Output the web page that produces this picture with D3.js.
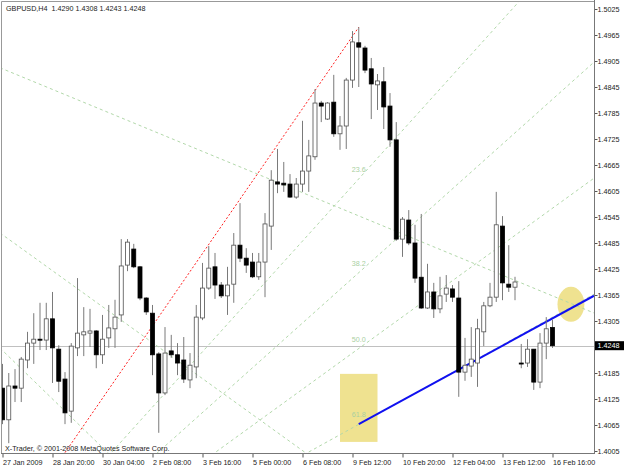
<!DOCTYPE html>
<html>
<head>
<meta charset="utf-8">
<script src="https://cdn.jsdelivr.net/npm/d3@7"></script>
<style>
  body { margin: 0; background: #fff; }
  text { font-family: "Liberation Sans", Arial, sans-serif; font-size: 7.2px; }
</style>
</head>
<body>
<div id="chart"></div>
<script>
'use strict';

// GBPUSD H4, one entry per bar, bar 0 = 27 Jan 2009 12:00
var opens = [1.4150,1.4077,1.4155,1.4150,1.4215,1.4254,1.4263,1.4261,1.4310,1.4240,
    1.4171,1.4097,1.4243,1.4273,1.4277,1.4282,1.4227,1.4266,1.4287,1.4319,
    1.4434,1.4471,1.4430,1.4358,1.4323,1.4229,1.4139,1.4236,1.4227,1.4215,
    1.4169,1.4199,1.4312,1.4381,1.4430,1.4388,1.4363,1.4390,1.4480,1.4450,
    1.4441,1.4407,1.4441,1.4524,1.4626,1.4623,1.4621,1.4591,1.4621,1.4651,
    1.4684,1.4808,1.4771,1.4810,1.4737,1.4755,1.4861,1.4947,1.4935,1.4887,
    1.4850,1.4857,1.4801,1.4723,1.4494,1.4538,1.4485,1.4406,1.4335,1.4372,
    1.4333,1.4367,1.4379,1.4358,1.4187,1.4201,1.4208,1.4280,1.4340,1.4360,
    1.4524,1.4390,1.4383,1.4208,1.4208,1.4240,1.4164,1.4254,1.4290];
var highs = [1.4206,1.4185,1.4194,1.4222,1.4280,1.4323,1.4347,1.4347,1.4372,1.4249,
    1.4187,1.4254,1.4404,1.4337,1.4333,1.4284,1.4319,1.4342,1.4354,1.4494,
    1.4494,1.4483,1.4432,1.4360,1.4342,1.4233,1.4291,1.4273,1.4254,1.4268,
    1.4231,1.4342,1.4439,1.4478,1.4462,1.4395,1.4430,1.4508,1.4577,1.4473,
    1.4462,1.4462,1.4554,1.4653,1.4702,1.4672,1.4644,1.4635,1.4767,1.4723,
    1.4840,1.4813,1.4810,1.4873,1.4778,1.4866,1.4974,1.4983,1.4940,1.4912,
    1.4875,1.4891,1.4831,1.4764,1.4545,1.4561,1.4527,1.4552,1.4437,1.4393,
    1.4407,1.4411,1.4388,1.4397,1.4266,1.4291,1.4310,1.4349,1.4393,1.4603,
    1.4547,1.4480,1.4407,1.4252,1.4263,1.4240,1.4277,1.4314,1.4308];
var lows = [1.4067,1.4023,1.4118,1.4118,1.4196,1.4206,1.4238,1.4238,1.4162,1.4141,
    1.4067,1.4070,1.4224,1.4224,1.4245,1.4196,1.4206,1.4243,1.4243,1.4303,
    1.4420,1.4427,1.4353,1.4319,1.4180,1.4047,1.4134,1.4220,1.4180,1.4162,
    1.4150,1.4173,1.4307,1.4377,1.4356,1.4358,1.4319,1.4347,1.4441,1.4416,
    1.4404,1.4400,1.4360,1.4469,1.4600,1.4603,1.4589,1.4587,1.4603,1.4603,
    1.4677,1.4764,1.4769,1.4730,1.4700,1.4702,1.4843,1.4845,1.4877,1.4771,
    1.4792,1.4748,1.4707,1.4490,1.4453,1.4480,1.4393,1.4333,1.4333,1.4312,
    1.4323,1.4349,1.4349,1.4130,1.4167,1.4176,1.4153,1.4247,1.4337,1.4349,
    1.4353,1.4372,1.4353,1.4196,1.4199,1.4146,1.4150,1.4217,1.4243];
var closes = [1.4077,1.4155,1.4150,1.4217,1.4254,1.4263,1.4261,1.4310,1.4243,1.4166,
    1.4093,1.4247,1.4277,1.4280,1.4282,1.4227,1.4263,1.4289,1.4314,1.4432,
    1.4487,1.4430,1.4358,1.4326,1.4227,1.4139,1.4231,1.4227,1.4208,1.4171,
    1.4203,1.4314,1.4381,1.4427,1.4388,1.4363,1.4388,1.4480,1.4450,1.4434,
    1.4407,1.4441,1.4529,1.4630,1.4621,1.4619,1.4591,1.4621,1.4651,1.4686,
    1.4808,1.4801,1.4808,1.4737,1.4755,1.4861,1.4949,1.4937,1.4884,1.4852,
    1.4859,1.4799,1.4723,1.4494,1.4540,1.4485,1.4404,1.4335,1.4372,1.4333,
    1.4363,1.4381,1.4360,1.4187,1.4203,1.4217,1.4287,1.4340,1.4360,1.4527,
    1.4393,1.4383,1.4395,1.4206,1.4240,1.4164,1.4254,1.4287,1.4248];

// axis labels
var timeLabels = ["27 Jan 2009", "28 Jan 20:00", "30 Jan 04:00", "2 Feb 08:00", "3 Feb 16:00",
    "5 Feb 00:00", "6 Feb 08:00", "9 Feb 12:00", "10 Feb 20:00", "12 Feb 04:00",
    "13 Feb 12:00", "16 Feb 16:00"];
var timeLabelBars = [0, 8, 16, 24, 32, 40, 48, 56, 64, 72, 80, 88];
var priceTicks = [1.5025, 1.4965, 1.4905, 1.4845, 1.4785, 1.4725, 1.4665, 1.4605, 1.4545,
    1.4485, 1.4425, 1.4365, 1.4305, 1.4245, 1.4185, 1.4125, 1.4065, 1.4005];
var lastPrice = 1.4248;

// objects on the chart (bar index, price)
var fiboBars = [-14, 57];
var fiboPrices = [1.3500, 1.4983];
var fiboLevels = [23.6, 38.2, 50.0, 61.8];
var fanLines = [
    [[0, 1.4887], [88, 1.4363]],
    [[0, 1.4504], [40, 1.4089]],
    [[0, 1.4237], [12, 1.4069]]
];
var trendBars = [57, 88];
var trendPrices = [1.4067, 1.4311];
var boxBars = [54, 60], boxPrices = [1.4183, 1.4026];
var ovalBars = [88.8, 93.1], ovalPrices = [1.4384, 1.4303];

var width = 625, height = 469,
    plotLeft = 1, plotTop = 1, plotRight = 594, plotBottom = 453;

var x = d3.scaleLinear().domain([0, 88]).range([2.5, 552.5]);
var y = d3.scaleLinear().domain([1.4005, 1.5025]).range([451, 9]);

var svg = d3.select("#chart").append("svg")
    .attr("width", width)
    .attr("height", height);

svg.append("rect").attr("width", width).attr("height", height).attr("fill", "#fff");

svg.append("clipPath").attr("id", "plot")
    .append("rect")
    .attr("x", plotLeft).attr("y", plotTop)
    .attr("width", plotRight - plotLeft).attr("height", plotBottom - plotTop);

var g = svg.append("g").attr("clip-path", "url(#plot)");

// yellow marks
g.append("rect")
    .attr("x", x(boxBars[0])).attr("y", y(boxPrices[0]))
    .attr("width", x(boxBars[1]) - x(boxBars[0]))
    .attr("height", y(boxPrices[1]) - y(boxPrices[0]))
    .attr("fill", "#efe290");
g.append("ellipse")
    .attr("cx", (x(ovalBars[0]) + x(ovalBars[1])) / 2)
    .attr("cy", (y(ovalPrices[0]) + y(ovalPrices[1])) / 2)
    .attr("rx", (x(ovalBars[1]) - x(ovalBars[0])) / 2)
    .attr("ry", (y(ovalPrices[1]) - y(ovalPrices[0])) / 2)
    .attr("fill", "#efe290");

// bid line
g.append("line")
    .attr("x1", plotLeft).attr("x2", plotRight)
    .attr("y1", Math.round(y(lastPrice)) + 0.5).attr("y2", Math.round(y(lastPrice)) + 0.5)
    .attr("stroke", "#c0c0c0");

// line through two points, carried on to the right edge (and back to the left one if asked)
function ray(x0, y0, x1, y1, back) {
    var m = (y1 - y0) / (x1 - x0);
    var xs = back ? 0 : x0;
    return [xs, y0 + m * (xs - x0), plotRight, y0 + m * (plotRight - x0)];
}

var dashed = "#b2d8aa";

fanLines.forEach(function (l) {
    var r = ray(x(l[0][0]), y(l[0][1]), x(l[1][0]), y(l[1][1]), true);
    g.append("line")
        .attr("x1", r[0]).attr("y1", r[1]).attr("x2", r[2]).attr("y2", r[3])
        .attr("stroke", dashed).attr("stroke-dasharray", "3,3");
});

// fibonacci fan
var fx0 = x(fiboBars[0]), fy0 = y(fiboPrices[0]), fx1 = x(fiboBars[1]);
fiboLevels.forEach(function (lv) {
    var p = fiboPrices[1] - lv / 100 * (fiboPrices[1] - fiboPrices[0]);
    var r = ray(fx0, fy0, fx1, y(p), false);
    g.append("line")
        .attr("x1", r[0]).attr("y1", r[1]).attr("x2", r[2]).attr("y2", r[3])
        .attr("stroke", dashed).attr("stroke-dasharray", "3,3");
    g.append("text")
        .attr("x", fx1).attr("y", y(p) - 7)
        .attr("text-anchor", "middle")
        .attr("fill", "#a9cfa1")
        .text(lv.toFixed(1));
});
g.append("line")
    .attr("x1", fx0).attr("y1", fy0).attr("x2", fx1).attr("y2", y(fiboPrices[1]))
    .attr("stroke", "#ff2020").attr("stroke-dasharray", "2,2");

// blue trend line
var tr = ray(x(trendBars[0]), y(trendPrices[0]), x(trendBars[1]), y(trendPrices[1]), false);
g.append("line")
    .attr("x1", tr[0]).attr("y1", tr[1]).attr("x2", tr[2]).attr("y2", tr[3])
    .attr("stroke", "#1010f0").attr("stroke-width", 2);

// candles
var bars = d3.range(opens.length);
var candle = g.selectAll("g.candle").data(bars).enter().append("g").attr("class", "candle");

candle.append("line")
    .attr("x1", function (i) { return x(i); })
    .attr("x2", function (i) { return x(i); })
    .attr("y1", function (i) { return y(highs[i]); })
    .attr("y2", function (i) { return y(lows[i]); })
    .attr("stroke", "#7a7a7a");

candle.append("rect")
    .attr("x", function (i) { return x(i) - 2; })
    .attr("width", 4)
    .attr("y", function (i) { return y(Math.max(opens[i], closes[i])); })
    .attr("height", function (i) { return Math.max(1, Math.abs(y(opens[i]) - y(closes[i]))); })
    .attr("fill", function (i) { return closes[i] >= opens[i] ? "#fff" : "#000"; })
    .attr("stroke", function (i) { return closes[i] >= opens[i] ? "#505050" : "#000"; })
    .attr("stroke-width", 0.8);

// frame
svg.append("path")
    .attr("d", "M" + plotLeft + ".5," + plotBottom + "V" + plotTop + ".5H" + plotRight)
    .attr("fill", "none").attr("stroke", "#999");

// price axis
var yAxis = d3.axisRight(y).tickValues(priceTicks).tickSize(3)
    .tickFormat(function (d) { return d === 1.4245 ? "" : d3.format(".4f")(d); });
var ya = svg.append("g").attr("transform", "translate(" + (plotRight + 0.5) + ",0)").call(yAxis);
ya.select(".domain").remove();
ya.selectAll("line").attr("stroke", "#555");
ya.selectAll("text").attr("x", 3).attr("dy", "0.35em")
    .attr("fill", "#222").style("font-size", "7.2px").style("font-family", "Liberation Sans, Arial, sans-serif");
svg.append("line")
    .attr("x1", plotRight + 0.5).attr("x2", plotRight + 0.5)
    .attr("y1", 0).attr("y2", plotBottom + 1)
    .attr("stroke", "#777");

// time axis
var xAxis = d3.axisBottom(x).tickValues(timeLabelBars).tickSize(4)
    .tickFormat(function (d, i) { return timeLabels[i]; });
var xa = svg.append("g").attr("transform", "translate(0," + (plotBottom + 0.5) + ")").call(xAxis);
xa.select(".domain").remove();
xa.selectAll("line").attr("stroke", "#555");
xa.selectAll("text").attr("text-anchor", "start").attr("x", 0).attr("y", 6).attr("dy", "0.71em")
    .attr("fill", "#222").style("font-size", "7.2px").style("font-family", "Liberation Sans, Arial, sans-serif");
svg.append("line")
    .attr("x1", plotLeft).attr("x2", plotRight + 1)
    .attr("y1", plotBottom + 0.5).attr("y2", plotBottom + 0.5)
    .attr("stroke", "#777");

// last price tag
svg.append("rect")
    .attr("x", plotRight + 1).attr("y", y(lastPrice) - 4.5)
    .attr("width", 29).attr("height", 9)
    .attr("fill", "#000");
svg.append("text")
    .attr("x", plotRight + 3.5).attr("y", y(lastPrice))
    .attr("dy", "0.35em")
    .attr("fill", "#fff")
    .text(lastPrice.toFixed(4));

// captions
svg.append("text")
    .attr("x", 6).attr("y", 10.5)
    .attr("fill", "#222")
    .style("white-space", "pre")
    .text("GBPUSD,H4  " + [opens[88], highs[88], lows[88], closes[88]].map(function (v) { return v.toFixed(4); }).join(" "));
svg.append("text")
    .attr("x", 5).attr("y", 450.5)
    .attr("fill", "#222")
    .text("X-Trader, \u00a9 2001-2008 MetaQuotes Software Corp.");
</script>
</body>
</html>
